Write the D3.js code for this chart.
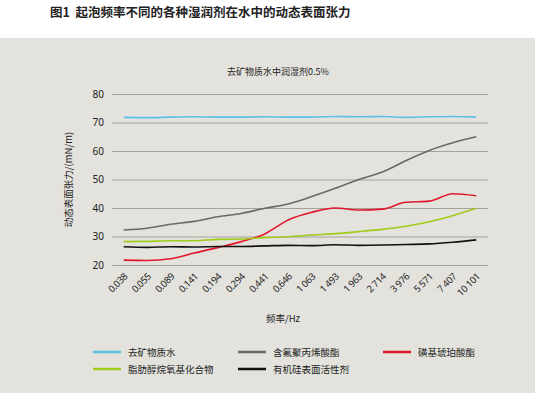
<!DOCTYPE html>
<html>
<head>
<meta charset="utf-8">
<script src="https://cdn.jsdelivr.net/npm/d3@7"></script>
<style>
  body { margin: 0; background: #fff; }
  text { font-family: "Noto Sans CJK SC", "Noto Sans", sans-serif; }
</style>
</head>
<body>
<div id="chart"></div>
<script>
// data
const freqs = ['0.038', '0.055', '0.089', '0.141', '0.194', '0.294', '0.441', '0.646',
  '1 063', '1 493', '1 963', '2 714', '3 976', '5 571', '7 407', '10 101']
const yTicks = [20, 30, 40, 50, 60, 70, 80]

const water = [71.8, 71.7, 71.9, 72.0, 71.9, 71.9, 72.0, 71.9, 71.9, 72.1, 72.0, 72.1, 71.8, 72.0, 72.1, 71.9]
const fluoroAcrylate = [32.3, 32.9, 34.3, 35.3, 36.9, 38.1, 39.9, 41.4, 44.0, 46.9, 50.0, 52.6, 56.6, 60.2, 62.9, 65.0]
const sulfosuccinate = [21.7, 21.6, 22.2, 24.2, 26.1, 28.2, 30.9, 35.8, 38.5, 40.0, 39.3, 39.6, 42.0, 42.4, 45.0, 44.3]
const alcoholEthoxylate = [28.2, 28.3, 28.5, 28.5, 29.0, 29.1, 29.6, 29.9, 30.5, 31.0, 31.7, 32.5, 33.6, 35.2, 37.3, 39.9]
const silicone = [26.4, 26.2, 26.4, 26.3, 26.5, 26.5, 26.7, 26.9, 26.8, 27.1, 26.9, 27.0, 27.2, 27.4, 28.0, 28.8]

const series = [
  { name: '去矿物质水', values: water, color: '#5cbfe9' },
  { name: '含氟聚丙烯酸酯', values: fluoroAcrylate, color: '#6b6a62' },
  { name: '磺基琥珀酸酯', values: sulfosuccinate, color: '#e2172d' },
  { name: '脂肪醇烷氧基化合物', values: alcoholEthoxylate, color: '#9fcb1b' },
  { name: '有机硅表面活性剂', values: silicone, color: '#111111' }
]

const W = 535, H = 393
const margin = { top: 94, left: 112, right: 47, bottom: 128 }
const width = W - margin.left - margin.right
const height = H - margin.top - margin.bottom

const root = d3.select('#chart').append('svg')
  .attr('width', W).attr('height', H)

// figure caption on white
root.append('text')
  .attr('x', 50).attr('y', 17)
  .attr('font-size', 12.5).attr('font-weight', 'bold').attr('fill', '#222')
  .style('white-space', 'pre')
  .text('图1  起泡频率不同的各种湿润剂在水中的动态表面张力')

// grey panel
root.append('rect')
  .attr('x', 0).attr('y', 38).attr('width', W).attr('height', H - 38)
  .attr('fill', '#e3e2dd')

root.append('text')
  .attr('x', 278).attr('y', 75).attr('text-anchor', 'middle')
  .attr('font-size', 9).attr('fill', '#222')
  .text('去矿物质水中润湿剂0.5%')

const svg = root.append('g').attr('transform', `translate(${margin.left},${margin.top})`)

const x = d3.scalePoint().domain(freqs).range([0, width]).padding(0.5)
const y = d3.scaleLinear().domain([20, 80]).range([height, 0])

// y grid + labels
const yAxis = svg.append('g')
  .call(d3.axisLeft(y).tickValues(yTicks).tickSize(-width).tickPadding(8))
yAxis.select('.domain').remove()
yAxis.selectAll('.tick line').attr('stroke', '#a3a29b').attr('stroke-width', 1)
yAxis.selectAll('.tick text').attr('font-size', 10).attr('fill', '#222')
  .style('font-family', '"Noto Sans", sans-serif')

// x labels, rotated
const xAxis = svg.append('g').attr('transform', `translate(0,${height})`)
  .call(d3.axisBottom(x).tickSize(0).tickPadding(0))
xAxis.select('.domain').remove()
xAxis.selectAll('.tick text')
  .attr('font-size', 9.5).attr('fill', '#222')
  .style('font-family', '"Noto Sans", sans-serif')
  .style('letter-spacing', '-0.3px')
  .attr('text-anchor', 'end')
  .attr('dy', null)
  .attr('transform', 'translate(4,12) rotate(-45)')

// lines
const line = d3.line()
  .x((d, i) => x(freqs[i]))
  .y(d => y(d))
  .curve(d3.curveMonotoneX)

svg.selectAll('.series').data(series).enter().append('path')
  .attr('class', 'series')
  .attr('fill', 'none')
  .attr('stroke', d => d.color)
  .attr('stroke-width', 1.6)
  .attr('d', d => line(d.values))

// axis titles
root.append('text')
  .attr('transform', `translate(72,${margin.top + height / 2}) rotate(-90)`)
  .attr('text-anchor', 'middle').attr('font-size', 9.5).attr('fill', '#222')
  .text('动态表面张力/(mN/m)')

root.append('text')
  .attr('x', 283).attr('y', 322).attr('text-anchor', 'middle')
  .attr('font-size', 9.5).attr('fill', '#222')
  .text('频率/Hz')

// legend
const legendPos = [[93, 352], [238, 352], [383, 352], [93, 369], [238, 369]]
const legend = root.selectAll('.legend').data(series).enter().append('g')
  .attr('class', 'legend')
  .attr('transform', (d, i) => `translate(${legendPos[i][0]},${legendPos[i][1]})`)
legend.append('line')
  .attr('x1', 0).attr('x2', 28).attr('y1', 0).attr('y2', 0)
  .attr('stroke', d => d.color).attr('stroke-width', 2.5)
legend.append('text')
  .attr('x', 35).attr('y', 3.5)
  .attr('font-size', 9.5).attr('fill', '#222')
  .text(d => d.name)
</script>
</body>
</html>
